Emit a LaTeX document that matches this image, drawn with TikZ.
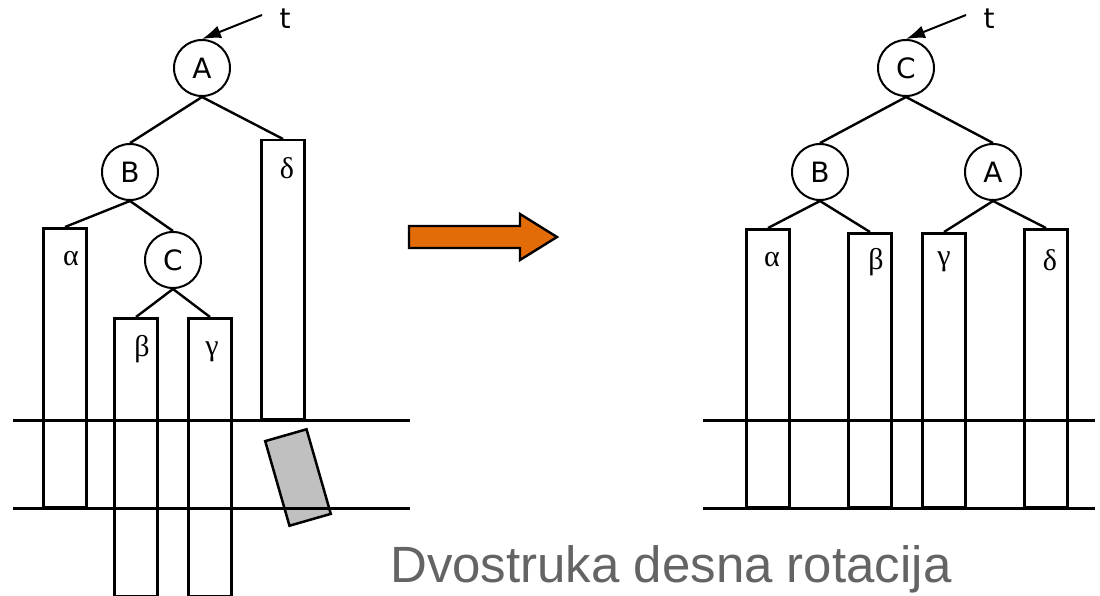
\documentclass[tikz,border=0pt]{standalone}
\usepackage{fontspec}
\setmainfont{DejaVu Sans}
\newfontfamily\greekfont{Liberation Serif}
\newfontfamily\titlefont{Liberation Sans}
\usetikzlibrary{arrows.meta}
\definecolor{turnorange}{HTML}{E36C09}
\definecolor{titlegray}{HTML}{646464}
\definecolor{cutgray}{HTML}{C0C0C0}

\begin{document}
\begin{tikzpicture}[x=1pt, y=-1pt,
    key/.style={circle, draw, line width=2pt, minimum size=56pt, inner sep=0pt, font=\fontsize{28}{28}\selectfont},
    subtree/.style={rectangle, draw, line width=2.5pt, minimum width=43pt, anchor=north, inner sep=0pt},
    tag/.style={anchor=center, yshift=-32pt, font=\greekfont\fontsize{30}{30}\selectfont},
    edge/.style={line width=2.4pt},
    level/.style={line width=3pt},
    ptr/.style={line width=2pt, -{Latex[length=19pt,width=13pt]}}]

    \useasboundingbox (0,0) rectangle (1100,596);

    % before: A with left child B, B has right child C
    \node[key] (A) at (202,68) {A};
    \node[key] (B) at (130,172) {B};
    \node[key] (C) at (173,260) {C};

    \node[subtree, minimum height=279pt, label={[tag, xshift=6pt]90:α}] (alpha) at (65,227) {};
    \node[subtree, minimum height=278pt, label={[tag, xshift=6pt]90:β}] (beta) at (136,317) {};
    \node[subtree, minimum height=278pt, label={[tag, xshift=2pt, yshift=-3pt]90:γ}] (gamma) at (210,317) {};
    \node[subtree, minimum height=279pt, label={[tag, xshift=4pt, yshift=3pt]90:δ}] (delta) at (283,139) {};
    \node[subtree, minimum height=88pt, anchor=center, rotate=16, fill=cutgray] (cut) at (298,477.5) {};

    \draw[edge] (A.south) -- (B.north);
    \draw[edge] (A.south) -- (delta.north);
    \draw[edge] (B.south) -- (alpha.north);
    \draw[edge] (B.south) -- (C.north);
    \draw[edge] (C.south) -- (beta.north);
    \draw[edge] (C.south) -- (gamma.north);

    \node[font=\fontsize{28}{28}\selectfont] (t) at (285,19) {t};
    \coordinate (tin) at (262,15);
    \draw[ptr] (tin) -- (A.north);

    \draw[level] (13,420) -- (410,420);
    \draw[level] (13,508) -- (410,508);

    % rotation arrow
    \draw[line width=2.4pt, fill=turnorange, line join=miter]
        (409,226) -- (520,226) -- (520,214) -- (557,237) -- (520,260) -- (520,248) -- (409,248) -- cycle;

    % after: C on top, B and A below
    \node[key] (C2) at (906,68) {C};
    \node[key] (B2) at (820,172) {B};
    \node[key] (A2) at (993,172) {A};

    \node[subtree, minimum height=278pt, label={[tag, xshift=4pt]90:α}] (alpha2) at (768,228) {};
    \node[subtree, minimum height=274pt, label={[tag, xshift=6pt, yshift=2pt]90:β}] (beta2) at (870,232) {};
    \node[subtree, minimum height=274pt, label={[tag, yshift=2pt]90:γ}] (gamma2) at (944,232) {};
    \node[subtree, minimum height=278pt, label={[tag, xshift=4pt]90:δ}] (delta2) at (1046,228) {};

    \draw[edge] (C2.south) -- (B2.north);
    \draw[edge] (C2.south) -- (A2.north);
    \draw[edge] (B2.south) -- (alpha2.north);
    \draw[edge] (B2.south) -- (beta2.north);
    \draw[edge] (A2.south) -- (gamma2.north);
    \draw[edge] (A2.south) -- (delta2.north);

    \node[font=\fontsize{28}{28}\selectfont] (t2) at (989,19) {t};
    \coordinate (tin2) at (966,15);
    \draw[ptr] (tin2) -- (C2.north);

    \draw[level] (703,420) -- (1095,420);
    \draw[level] (703,508) -- (1095,508);

    \node[anchor=base west, inner sep=0pt, text=titlegray, font=\titlefont\fontsize{51}{51}\selectfont] (caption) at (390,582) {Dvostruka desna rotacija};
\end{tikzpicture}
\end{document}
